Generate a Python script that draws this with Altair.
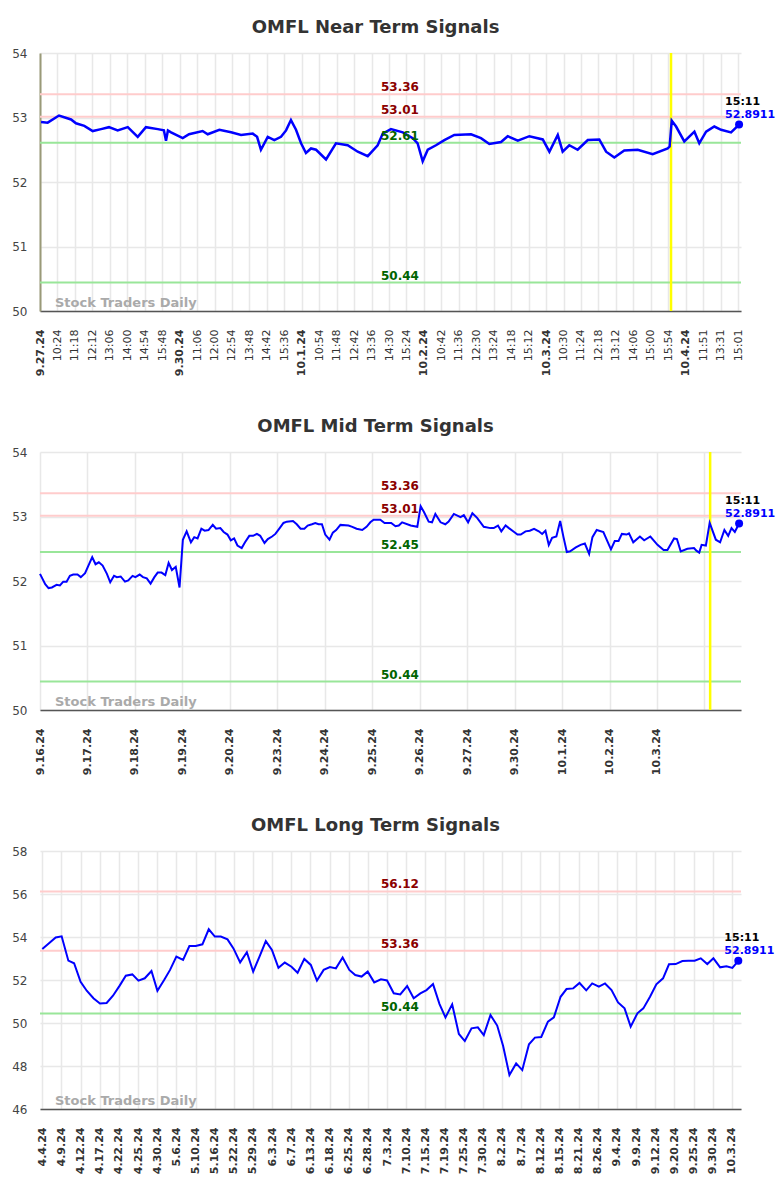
import altair as alt
import pandas as pd

# ---------------- Near term ----------------
near_labels = ['9.27.24', '10:24', '11:18', '12:12', '13:06', '14:00', '14:54', '15:48',
               '9.30.24', '11:06', '12:00', '12:54', '13:48', '14:42', '15:36',
               '10.1.24', '10:54', '11:48', '12:42', '13:36', '14:30', '15:24',
               '10.2.24', '10:42', '11:36', '12:30', '13:24', '14:18', '15:12',
               '10.3.24', '10:30', '11:24', '12:18', '13:12', '14:06', '15:00', '15:54',
               '10.4.24', '11:51', '13:31', '15:01']
near_date_idx = [0, 8, 15, 22, 29, 37]
near_t = [0.06, 0.44, 1.09, 1.78, 2.06, 2.54, 3.02, 3.50, 3.95, 4.45,
          5.03, 5.60, 6.07, 6.75, 7.10, 7.22, 7.33, 7.51, 8.18, 8.54,
          9.32, 9.61, 10.28, 10.95, 11.52, 12.19, 12.44, 12.66, 13.05, 13.43,
          13.81, 14.10, 14.38, 14.67, 14.96, 15.24, 15.53, 15.82, 16.39, 16.96,
          17.63, 18.21, 18.78, 19.35, 19.64, 20.11, 20.79, 21.36, 21.64, 21.93,
          22.22, 22.69, 23.17, 23.74, 24.70, 25.27, 25.75, 26.42, 26.80, 27.38,
          28.04, 28.81, 29.19, 29.67, 29.95, 30.33, 30.81, 31.39, 32.05, 32.44,
          32.91, 33.48, 34.25, 35.11, 35.97, 36.08, 36.20, 36.45, 36.92, 37.50,
          37.78, 38.17, 38.64, 39.03, 39.60, 40.06]
near_v = [52.93, 52.92, 53.03, 52.97, 52.91, 52.87, 52.79, 52.82, 52.85, 52.80,
          52.85, 52.70, 52.85, 52.82, 52.80, 52.64, 52.80, 52.77, 52.68, 52.74,
          52.79, 52.74, 52.81, 52.77, 52.73, 52.75, 52.70, 52.50, 52.70, 52.65,
          52.70, 52.80, 52.96, 52.81, 52.60, 52.45, 52.52, 52.50, 52.35, 52.60,
          52.57, 52.47, 52.40, 52.57, 52.75, 52.82, 52.77, 52.68, 52.60, 52.32,
          52.50, 52.57, 52.65, 52.73, 52.74, 52.68, 52.59, 52.62, 52.71, 52.64,
          52.71, 52.66, 52.47, 52.73, 52.47, 52.57, 52.50, 52.65, 52.66, 52.47,
          52.38, 52.49, 52.50, 52.43, 52.52, 52.55, 52.95, 52.86, 52.63, 52.78,
          52.60, 52.78, 52.86, 52.81, 52.77, 52.8911]
near_levels = [53.36, 53.01, 52.61, 50.44]
near_kinds = ['r', 'r', 's', 's']
near_yellow = 36.16

# ---------------- Mid term ----------------
mid_labels = ['9.16.24', '9.17.24', '9.18.24', '9.19.24', '9.20.24', '9.23.24', '9.24.24',
              '9.25.24', '9.26.24', '9.27.24', '9.30.24', '10.1.24', '10.2.24', '10.3.24', '']
mid_t = [0.00, 0.11, 0.18, 0.25, 0.35, 0.42, 0.49, 0.56, 0.63, 0.70,
         0.79, 0.86, 0.95, 1.02, 1.10, 1.17, 1.24, 1.32, 1.41, 1.48,
         1.56, 1.62, 1.70, 1.79, 1.86, 1.95, 2.01, 2.10, 2.17, 2.25,
         2.33, 2.41, 2.48, 2.56, 2.64, 2.71, 2.78, 2.86, 2.94, 3.01,
         3.09, 3.18, 3.25, 3.32, 3.40, 3.47, 3.55, 3.64, 3.71, 3.80,
         3.87, 3.95, 4.02, 4.09, 4.16, 4.25, 4.32, 4.41, 4.49, 4.57,
         4.64, 4.73, 4.80, 4.89, 4.96, 5.05, 5.13, 5.20, 5.33, 5.41,
         5.49, 5.57, 5.64, 5.73, 5.80, 5.87, 5.94, 6.01, 6.10, 6.17,
         6.24, 6.33, 6.50, 6.58, 6.67, 6.79, 6.88, 6.96, 7.03, 7.17,
         7.26, 7.40, 7.49, 7.56,
         7.63, 7.81, 7.95, 8.02, 8.09, 8.19, 8.26, 8.33, 8.44, 8.54,
         8.61, 8.72, 8.86, 8.93, 9.02, 9.11, 9.21, 9.35, 9.49, 9.56,
         9.65, 9.72, 9.81, 9.88, 9.99, 10.06, 10.13, 10.23, 10.32, 10.41,
         10.51, 10.58, 10.65, 10.72, 10.79, 10.88, 10.96, 11.03, 11.10, 11.17,
         11.29, 11.39, 11.48, 11.57, 11.64, 11.73, 11.87, 12.03, 12.11, 12.19,
         12.26, 12.36, 12.41, 12.50, 12.64, 12.73, 12.86, 13.01, 13.14, 13.22,
         13.36, 13.42, 13.50, 13.64, 13.78, 13.83, 13.89, 13.94, 14.03, 14.11,
         14.24, 14.33, 14.42, 14.50, 14.57, 14.64, 14.73]
mid_v = [52.11, 51.95, 51.89, 51.90, 51.94, 51.93, 51.99, 51.99, 52.08, 52.10,
         52.10, 52.06, 52.12, 52.24, 52.37, 52.26, 52.29, 52.24, 52.11, 51.98,
         52.08, 52.06, 52.07, 51.99, 52.01, 52.08, 52.06, 52.10, 52.06, 52.04,
         51.96, 52.06, 52.13, 52.13, 52.09, 52.28, 52.17, 52.22, 51.90, 52.64,
         52.77, 52.60, 52.68, 52.66, 52.81, 52.78, 52.79, 52.87, 52.81, 52.82,
         52.76, 52.72, 52.63, 52.66, 52.55, 52.51, 52.60, 52.70, 52.70, 52.73,
         52.70, 52.59, 52.65, 52.69, 52.73, 52.82, 52.90, 52.92, 52.93, 52.88,
         52.81, 52.81, 52.86, 52.88, 52.90, 52.88, 52.88, 52.72, 52.64, 52.75,
         52.79, 52.87, 52.86, 52.84, 52.81, 52.79, 52.84, 52.91, 52.95, 52.95,
         52.90, 52.90, 52.85, 52.86,
         52.91, 52.86, 52.84, 53.16, 53.07, 52.92, 52.91, 53.04, 52.91, 52.88,
         52.92, 53.04, 52.99, 53.02, 52.91, 53.05, 52.98, 52.84, 52.82, 52.82,
         52.86, 52.77, 52.86, 52.82, 52.76, 52.72, 52.72, 52.77, 52.78, 52.81,
         52.77, 52.73, 52.78, 52.56, 52.67, 52.69, 52.93, 52.68, 52.45, 52.46,
         52.52, 52.56, 52.58, 52.42, 52.68, 52.79, 52.76, 52.49, 52.62, 52.62,
         52.73, 52.72, 52.74, 52.60, 52.69, 52.63, 52.69, 52.56, 52.48, 52.48,
         52.66, 52.65, 52.46, 52.50, 52.51, 52.47, 52.44, 52.56, 52.55, 52.90,
         52.64, 52.60, 52.79, 52.70, 52.82, 52.76, 52.8911]
mid_levels = [53.36, 53.01, 52.45, 50.44]
mid_kinds = ['r', 'r', 's', 's']
mid_yellow = 14.12

# ---------------- Long term ----------------
long_labels = ['4.4.24', '4.9.24', '4.12.24', '4.17.24', '4.22.24', '4.25.24', '4.30.24',
               '5.6.24', '5.10.24', '5.16.24', '5.22.24', '5.29.24', '6.3.24', '6.7.24',
               '6.13.24', '6.18.24', '6.25.24', '6.28.24', '7.3.24', '7.10.24', '7.15.24',
               '7.19.24', '7.25.24', '7.30.24', '8.2.24', '8.7.24', '8.12.24', '8.15.24',
               '8.21.24', '8.26.24', '9.4.24', '9.9.24', '9.12.24', '9.20.24', '9.25.24',
               '9.30.24', '10.3.24']
long_t = [0.00, 0.35, 0.70, 1.01, 1.36, 1.66, 2.00, 2.32, 2.67, 3.01,
          3.36, 3.69, 4.04, 4.36, 4.70, 5.02, 5.35, 5.70, 6.01, 6.36,
          6.67, 7.00, 7.35, 7.68, 8.01, 8.36, 8.69, 9.01, 9.32, 9.67,
          9.98, 10.33, 10.68, 11.01, 11.34, 11.67, 11.99, 12.33, 12.66, 13.01,
          13.33, 13.68, 14.02, 14.34, 14.69, 15.02, 15.33, 15.68, 16.03, 16.34,
          16.67, 16.99, 17.33, 17.68, 18.00, 18.35, 18.69,
          19.05, 19.39, 19.74, 20.06, 20.40, 20.74, 21.05, 21.40, 21.75, 22.06,
          22.41, 22.74, 23.05, 23.40, 23.75, 24.06, 24.39, 24.74, 25.06, 25.41,
          25.72, 26.05, 26.40, 26.71, 27.06, 27.37, 27.72, 28.05, 28.40, 28.71,
          29.06, 29.38, 29.72, 30.06, 30.40, 30.72, 31.07, 31.38, 31.73, 32.06,
          32.41, 32.72, 33.07, 33.42, 33.73, 34.06, 34.38, 34.72, 35.04, 35.39,
          35.72, 36.03, 36.34]
long_v = [53.44, 53.71, 53.98, 54.03, 52.90, 52.78, 51.92, 51.50, 51.15, 50.91,
          50.93, 51.27, 51.74, 52.20, 52.26, 51.97, 52.08, 52.42, 51.50, 52.00,
          52.47, 53.09, 52.93, 53.58, 53.58, 53.66, 54.36, 54.02, 54.02, 53.89,
          53.47, 52.82, 53.29, 52.39, 53.09, 53.81, 53.40, 52.57, 52.81, 52.62,
          52.34, 52.98, 52.70, 51.97, 52.47, 52.60, 52.54, 53.05, 52.47, 52.23,
          52.16, 52.39, 51.89, 52.03, 51.98, 51.38, 51.33,
          51.72, 51.15, 51.38, 51.53, 51.81, 50.88, 50.26, 50.87, 49.49, 49.16,
          49.75, 49.80, 49.44, 50.37, 49.88, 48.93, 47.58, 48.12, 47.81, 49.01,
          49.32, 49.35, 50.06, 50.26, 51.22, 51.58, 51.61, 51.86, 51.52, 51.84,
          51.69, 51.84, 51.53, 50.96, 50.68, 49.83, 50.45, 50.68, 51.22, 51.80,
          52.08, 52.73, 52.74, 52.88, 52.90, 52.90, 53.01, 52.74, 53.01, 52.59,
          52.64, 52.56, 52.8911]
long_levels = [56.12, 53.36, 50.44]
long_kinds = ['r', 'r', 's']

last_time = '15:11'
last_price = '52.8911'

W, H = 701, 258
FONT = 'DejaVu Sans'


def panel(title, t, v, labels, xdomain, ydomain, yticks, levels, kinds,
          yellow=None, bold_idx=None, ydomain_line=False, line_w=2.0):
    df = pd.DataFrame({'t': t, 'v': v})
    lv = pd.DataFrame({'v': levels, 'kind': kinds,
                       'label': [f'{x:.2f}' for x in levels]})
    last = df.tail(1)

    arr = '[' + ','.join("'" + s + "'" for s in labels) + ']'
    if bold_idx is not None:
        fw = {'condition': {'test': 'indexof([' + ','.join(str(i) for i in bold_idx) + '], datum.value) >= 0',
                            'value': 'bold'}, 'value': 'normal'}
    else:
        fw = 'bold'
    xaxis = alt.Axis(values=list(range(len(labels))), labelExpr=arr + '[datum.value]',
                     labelAngle=-90, labelFontSize=11, labelFontWeight=fw, labelColor='#333',
                     labelPadding=18, ticks=False, labelOverlap=False, labelFlush=False,
                     labelBound=False, grid=True, gridColor='#e8e8e8', gridWidth=1.5,
                     domain=True, domainColor='#555', domainWidth=1.5, title=None)
    yaxis_kw = dict(values=yticks, format='d', labelFontSize=12, labelColor='#444',
                    labelPadding=13, ticks=False, grid=True, gridColor='#e8e8e8',
                    gridWidth=1.5, title=None)
    if ydomain_line:
        yaxis = alt.Axis(domain=True, domainColor='#9a9a78', domainWidth=2, **yaxis_kw)
    else:
        yaxis = alt.Axis(domain=False, **yaxis_kw)

    xs = alt.Scale(domain=xdomain, nice=False, zero=False)
    ys = alt.Scale(domain=ydomain, nice=False, zero=False)
    X = alt.X('t:Q', scale=xs, axis=xaxis)
    Y = alt.Y('v:Q', scale=ys, axis=yaxis)

    color_scale = alt.Scale(domain=['r', 's'], range=['#ffcccc', '#99e699'])
    text_scale = alt.Scale(domain=['r', 's'], range=['#8b0000', '#006400'])

    layers = []
    rules = alt.Chart(lv).mark_rule(strokeWidth=2).encode(
        y=Y, color=alt.Color('kind:N', scale=color_scale, legend=None))
    layers.append(rules)
    if yellow is not None:
        ydf = pd.DataFrame({'t': [yellow]})
        layers.append(alt.Chart(ydf).mark_rule(color='#ffff00', strokeWidth=2.5).encode(x=X))
    layers.append(alt.Chart(df).mark_line(color='#0000ff', strokeWidth=line_w).encode(x=X, y=Y))
    layers.append(alt.Chart(last).mark_circle(size=64, color='#0000ff', opacity=1).encode(x=X, y=Y))
    layers.append(alt.Chart(lv).mark_text(font=FONT, fontSize=12, fontWeight='bold',
                                          align='center', baseline='alphabetic', dy=-3).encode(
        x=alt.value(360), y=Y, text='label:N',
        color=alt.Color('kind:N', scale=text_scale, legend=None)))
    layers.append(alt.Chart(last).mark_text(font=FONT, fontSize=11, fontWeight='bold',
                                            align='left', baseline='alphabetic',
                                            dx=-14, dy=-20, color='black').encode(
        x=X, y=Y, text=alt.value(last_time)))
    layers.append(alt.Chart(last).mark_text(font=FONT, fontSize=11, fontWeight='bold',
                                            align='left', baseline='alphabetic',
                                            dx=-14, dy=-7, color='#0000ff').encode(
        x=X, y=Y, text=alt.value(last_price)))
    layers.append(alt.Chart(df.head(1)).mark_text(font=FONT, fontSize=13, fontWeight='bold',
                                                  align='left', baseline='alphabetic',
                                                  color='#aaaaaa').encode(
        x=alt.value(15), y=alt.value(H - 4), text=alt.value('Stock Traders Daily')))

    return alt.layer(*layers).resolve_scale(color='independent').properties(
        width=W, height=H,
        title=alt.TitleParams(title, font=FONT, fontSize=18, fontWeight='bold', color='#333333',
                              anchor='middle', dx=-15, offset=10))


near = panel('OMFL Near Term Signals', near_t, near_v, near_labels, [0, 40.17], [50, 54],
             [50, 51, 52, 53, 54], near_levels, near_kinds, yellow=near_yellow,
             bold_idx=near_date_idx, ydomain_line=True, line_w=2.5)
mid = panel('OMFL Mid Term Signals', mid_t, mid_v, mid_labels, [0, 14.77], [50, 54],
            [50, 51, 52, 53, 54], mid_levels, mid_kinds, yellow=mid_yellow)
long_ = panel('OMFL Long Term Signals', long_t, long_v, long_labels, [-0.12, 36.48], [46, 58],
              [46, 48, 50, 52, 54, 56, 58], long_levels, long_kinds)

chart = alt.vconcat(near, mid, long_, spacing=42).properties(
    padding={'left': 3, 'top': 11, 'right': 0, 'bottom': 5}
).configure(font=FONT).configure_view(strokeWidth=0)

chart.save('out.html', embed_options={'renderer': 'svg', 'actions': False})
